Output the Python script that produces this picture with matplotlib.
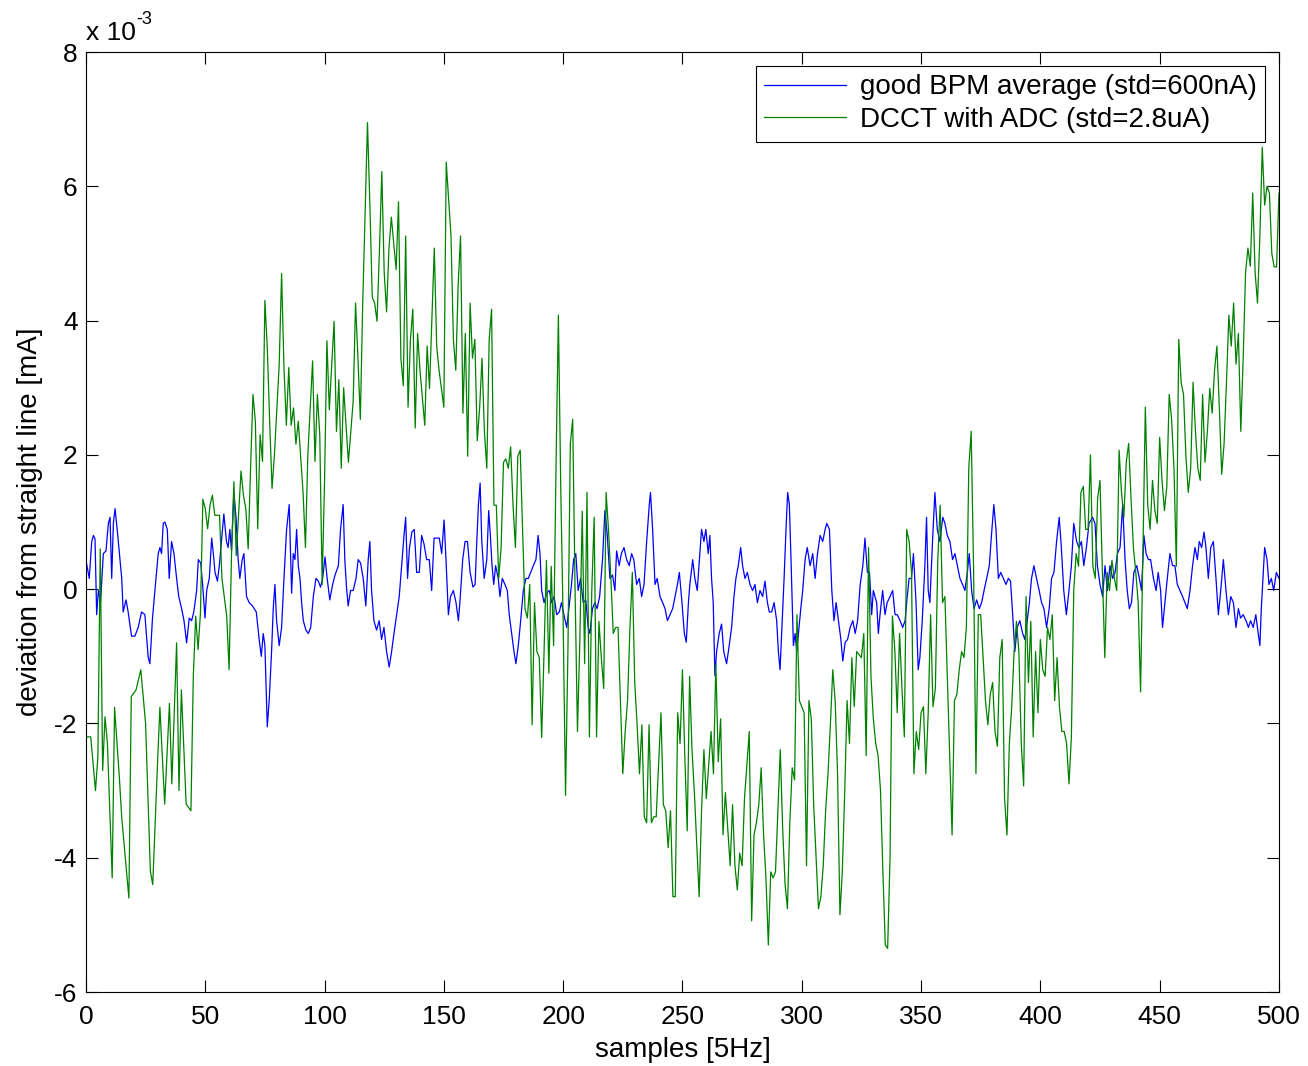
import matplotlib
matplotlib.use("Agg")
import matplotlib.pyplot as plt

# ---------- data (values in units of 1e-3 mA) ----------
bpm_x = [
    0, 1.4, 2.4, 3.1, 3.8, 4.5, 5.2, 6.1, 7.3, 8.4, 9.4, 10.1, 10.8, 11.5, 12.2, 13.1, 14.3, 15, 15.6, 16.8,
    17.7, 19.1, 20.5, 21.9, 23.3, 24.7, 26.1, 26.8, 27.9, 28.9, 30.3, 31, 31.7, 32.4, 33.1, 34.1, 34.9, 35.9, 36.9, 38,
    38.9, 40.1, 41.1, 42.2, 43.3, 44.3, 45.2, 46.4, 47.1, 48.1, 48.9, 49.9, 50.6, 51.7, 52.7, 53.4, 54.1, 55.1, 55.9, 56.9,
    57.8, 58.9, 59.6, 60.3, 61, 62, 62.9, 63.8, 64.5, 65.5, 66.2, 67.3, 68.4, 69.8, 71.4, 72.6, 73.5, 74.3, 75, 76,
    76.8, 77.8, 78.5, 79.2, 79.9, 81, 82, 83, 84.1, 85.2, 86.2, 86.9, 87.6, 88.3, 89, 89.7, 90.4, 91.1, 92.2, 93.2,
    94.2, 95.3, 96.4, 97.4, 98.3, 99.2, 100.2, 101.1, 102.2, 103.4, 104.4, 105.8, 106.7, 107.8, 108.5, 109.2, 109.9, 110.9, 112, 113.2,
    114.1, 115.1, 116.2, 117.3, 118.3, 119, 119.7, 120.7, 121.8, 122.9, 123.9, 124.9, 126, 127.1, 128.1, 129.1, 130.2, 131.3, 132.3, 133.3,
    134, 134.8, 135.6, 136.6, 137.6, 138.6, 139.7, 140.7, 141.7, 142.8, 143.9, 144.9, 145.9, 147, 148.1, 149.1, 150.1, 150.9, 151.9, 152.8,
    154, 155.1, 156.1, 156.8, 157.9, 158.9, 159.9, 161, 162.2, 163.1, 163.8, 164.5, 165.2, 165.9, 166.9, 168, 168.8, 169.5, 170.2, 170.9,
    171.7, 172.8, 173.5, 174.5, 175.6, 176.6, 177.4, 178.4, 179.4, 180.2, 181.2, 182.2, 183.3, 184.4, 185.4, 186.4, 187.5, 188.6, 189.5, 190.3,
    191, 192, 193.1, 194.2, 195.2, 196.2, 197.3, 198.4, 199.3, 200.3, 201.5, 202.4, 203.5, 204.4, 205.3, 206.3, 207.3, 208.4, 209.5, 210.5,
    211.2, 212.3, 213.3, 214.2, 215.3, 216.5, 217.5, 218.5, 219.6, 220.7, 221.7, 222.4, 223.5, 224.4, 225.5, 226.6, 227.7, 228.7, 229.6, 230.8,
    231.9, 232.9, 233.9, 235, 236.1, 236.6, 237.5, 238.5, 239.4, 240.6, 241.7, 242.7, 243.7, 244.8, 245.9, 246.9, 247.9, 248.7, 249.8, 250.8,
    251.6, 252.5, 253.1, 254.3, 255.2, 256.2, 257.3, 258, 259, 259.8, 260.8, 261.5, 262.2, 262.9, 263.6, 264.3, 265.4, 266.4, 267.3, 268.5,
    269.6, 270.6, 271.6, 272.4, 273.4, 274.4, 275.2, 276.2, 277.2, 278.3, 279.4, 280.4, 281.4, 282.5, 283.6, 284.6, 285.6, 286.4, 287.4, 288.4,
    289.5, 290.2, 290.9, 291.7, 292.6, 293.4, 294.1, 294.8, 295.5, 296.5, 297.2, 297.9, 298.6, 299.6, 300.4, 301.4, 302.3, 303.5, 304.6, 305.6,
    306.6, 307.7, 308.8, 309.8, 310.5, 311.6, 312.6, 313.5, 314.4, 315.4, 316.4, 317.2, 318.2, 319.2, 320.3, 321.4, 322.4, 323.4, 324.5, 325.6,
    326.5, 327.5, 328.4, 329.3, 330, 330.7, 331.4, 332.1, 332.8, 333.9, 334.9, 335.8, 337, 338.1, 339.1, 340, 341.2, 342.3, 343.3, 344.2,
    345, 346, 346.8, 347.9, 348.8, 349.5, 350.5, 351.6, 352.3, 353, 353.7, 354.8, 355.8, 356.8, 357.9, 359.1, 360, 361, 362.1, 363.2,
    364.2, 365.2, 366.3, 367.4, 368.4, 369.4, 370.2, 371.2, 372.2, 373.3, 374.4, 375.4, 376.4, 377.5, 378.6, 379.5, 380.5, 381.4, 382.4, 383.4,
    384.5, 385.6, 386.6, 387.5, 388.4, 389.3, 390.3, 391.4, 392.6, 393.5, 394.5, 395.4, 396.3, 397.3, 398.4, 399.5, 400.5, 401.5, 402.6, 403.7,
    404.7, 405.7, 406.8, 407.9, 408.8, 409.8, 410.9, 412, 413, 414, 415.2, 416.2, 417.2, 418.2, 419.3, 420.4, 421.9, 422.9, 423.9, 425,
    426.1, 427.1, 428.1, 429.2, 430.3, 431.3, 432.3, 433.4, 434.5, 435.5, 436.4, 437.3, 438.2, 439.2, 440.4, 441.5, 442.4, 443.4, 444.3, 445.3,
    446.2, 447.4, 448.5, 449.4, 450.4, 451.2, 452.2, 453.2, 454.3, 455.4, 456.4, 457.4, 458.5, 459.6, 460.6, 461.6, 462.7, 463.8, 464.8, 465.8,
    466.6, 467.6, 468.6, 469.4, 470.4, 471.4, 472.5, 473.6, 474.6, 475.6, 476.7, 477.8, 478.8, 479.8, 480.9, 482, 483, 483.9, 485, 486.2,
    487.2, 488.1, 489.2, 490.3, 491.3, 492, 492.6, 493.3, 494, 495, 495.8, 496.8, 497.8, 498.9, 500,
]
bpm_y = [
    0.43, 0.16, 0.7, 0.8, 0.75, -0.38, -0.02, -0.2, 0.53, 0.57, 0.98, 1.07, 0.16, 0.98, 1.2, 0.89, 0.44, 0.16, -0.34, -0.16,
    -0.34, -0.7, -0.7, -0.57, -0.34, -0.38, -1.02, -1.11, -0.43, -0.02, 0.53, 0.62, 0.53, 0.98, 1.0, 0.89, 0.16, 0.71, 0.53, 0.16,
    -0.11, -0.29, -0.47, -0.8, -0.43, -0.47, -0.34, -0.02, 0.44, 0.39, 0.07, -0.43, -0.02, 0.16, 0.76, 0.53, 0.25, 0.12, 0.35, 0.76,
    1.12, 0.71, 0.62, 0.89, 0.57, 1.44, 1.07, 0.44, 0.16, 0.44, 0.53, -0.11, -0.2, -0.25, -0.34, -0.75, -1.0, -0.66, -0.84, -2.05,
    -1.66, -0.93, -0.29, 0.07, -0.47, -0.84, -0.57, 0.16, 0.89, 1.26, -0.06, 0.53, 0.44, 0.89, 0.35, 0.16, -0.2, -0.47, -0.61, -0.66,
    -0.57, -0.11, 0.16, 0.12, 0.03, 0.16, 0.48, 0.16, -0.16, 0.07, 0.21, 0.35, 0.89, 1.26, 0.44, 0.03, -0.25, -0.02, -0.02, 0.16,
    0.44, 0.39, 0.16, -0.25, 0.44, 0.71, -0.02, -0.47, -0.61, -0.47, -0.75, -0.57, -0.93, -1.16, -0.93, -0.66, -0.38, -0.11, 0.35, 0.8,
    1.07, 0.16, 0.62, 0.85, 0.89, 0.25, 0.25, 0.8, 0.67, 0.44, 0.44, -0.02, 0.76, 0.76, 0.76, 0.53, 1.03, 0.44, -0.38, -0.11,
    -0.02, -0.2, -0.47, -0.16, 0.44, 0.71, 0.71, 0.25, 0.03, 0.07, 0.71, 1.26, 1.58, 0.71, 0.16, 0.44, 1.17, 0.8, 0.35, 0.07,
    0.35, 0.16, -0.11, 0.16, 0.07, -0.02, -0.38, -0.66, -0.93, -1.11, -0.84, -0.47, -0.02, 0.16, 0.16, 0.25, 0.35, 0.44, 0.8, 0.53,
    -0.02, -0.2, -0.06, -0.02, -0.2, -0.11, -0.38, -0.34, -0.2, -0.38, -0.57, -0.29, 0.07, 0.44, 0.53, -0.02, 0.16, -0.2, -0.16, -0.57,
    -0.66, -0.29, -0.2, -0.29, -0.11, 0.44, 1.17, 0.8, 0.16, 0.21, -0.02, 0.57, 0.35, 0.53, 0.62, 0.44, 0.35, 0.53, 0.44, 0.07,
    0.16, -0.11, 0.07, 0.71, 1.26, 1.44, 0.89, 0.07, 0.16, -0.11, -0.2, -0.29, -0.47, -0.38, -0.29, -0.11, 0.07, 0.25, -0.2, -0.66,
    -0.79, -0.2, 0.07, 0.44, 0.16, -0.02, 0.53, 0.89, 0.71, 0.89, 0.53, 0.8, 0.16, -0.2, -1.29, -0.93, -0.66, -0.52, -0.93, -1.11,
    -0.84, -0.57, -0.11, 0.16, 0.35, 0.62, 0.35, 0.16, 0.25, 0.07, -0.02, 0.07, -0.2, -0.02, -0.11, 0.12, -0.2, -0.34, -0.34, -0.2,
    -0.47, -0.93, -1.2, -0.57, 0.16, 0.89, 1.44, 1.26, 0.44, -0.84, -0.66, -0.93, -0.66, -0.29, -0.02, 0.44, 0.62, 0.35, 0.53, 0.16,
    0.53, 0.8, 0.71, 0.89, 0.98, 0.89, -0.02, -0.47, -0.2, -0.47, -0.75, -1.07, -0.79, -0.75, -0.57, -0.47, -0.66, -0.47, 0.07, 0.35,
    0.76, 0.25, 0.25, -0.38, -0.02, -0.11, -0.2, -0.66, -0.38, -0.02, -0.38, -0.2, -0.11, -0.02, -0.38, -0.38, -0.47, -0.57, -0.47, -0.11,
    0.16, 0.16, 0.53, -0.2, -1.2, -1.02, -0.47, 0.35, 1.07, -0.02, -0.2, 0.71, 1.44, 0.89, 0.71, 1.07, 0.98, 0.8, 0.71, 0.44,
    0.53, 0.35, 0.16, 0.07, -0.02, 0.25, 0.53, -0.02, -0.29, -0.16, -0.29, -0.2, -0.02, 0.16, 0.35, 0.8, 1.26, 0.89, 0.16, 0.25,
    0.16, 0.07, 0.16, 0.12, -0.38, -0.93, -0.57, -0.47, -0.66, -0.75, -0.47, -0.2, 0.16, 0.35, 0.16, -0.02, -0.2, -0.29, -0.57, -0.29,
    0.16, 0.25, 0.71, 1.07, 0.62, -0.02, -0.38, -0.02, 0.35, 0.98, 0.71, 0.62, 0.71, 0.35, 0.62, 0.98, 1.07, 0.98, 0.35, 0.07,
    -0.11, 0.35, -0.02, 0.35, 0.16, 0.25, 0.53, 0.62, 1.26, 0.44, -0.02, -0.29, -0.2, 0.25, 0.35, 0.16, -0.02, 0.8, 0.53, 0.44,
    0.44, 0.16, -0.02, 0.25, -0.02, -0.57, -0.2, 0.16, 0.53, 0.35, 0.35, 0.07, -0.02, -0.11, -0.2, -0.29, -0.02, 0.35, 0.62, 0.44,
    0.71, 0.62, 0.85, 0.62, 0.16, 0.62, 0.71, 0.16, -0.38, -0.02, 0.44, -0.02, -0.38, -0.11, -0.2, -0.57, -0.29, -0.43, -0.38, -0.47,
    -0.57, -0.47, -0.57, -0.38, -0.66, -0.84, -0.29, 0.16, 0.62, 0.44, 0.07, 0.16, -0.02, 0.25, 0.16,
]

dcct_x = [
    0, 2, 4, 5, 6, 7, 8, 9, 11, 12, 14, 15, 18, 19, 21, 23, 25, 27, 28, 30,
    31, 33, 35, 36, 38, 39, 40, 42, 44, 45, 46, 47, 48, 49, 50, 51, 52, 53, 54, 56,
    57, 59, 60, 61, 62, 63, 65, 66, 67, 68, 69, 70, 71, 72, 73, 74, 75, 76, 77, 78,
    79, 81, 82, 83, 84, 85, 86, 87, 88, 89, 91, 92, 93, 95, 96, 97, 98, 99, 100, 101,
    102, 104, 105, 106, 107, 108, 110, 112, 113, 114, 115, 116, 118, 119, 120, 121, 122, 123, 124, 125,
    126, 127, 128, 130, 131, 132, 133, 134, 135, 136, 137, 138, 139, 140, 142, 143, 144, 146, 147, 148,
    150, 151, 153, 154, 155, 156, 157, 158, 159, 160, 161, 162, 163, 164, 165, 166, 167, 168, 169, 170,
    171, 172, 173, 174, 175, 176, 177, 178, 179, 180, 181, 182, 183, 184, 185, 186, 187, 188, 189, 190,
    191, 192, 193, 194, 195, 196, 197, 198, 199, 200, 201, 202, 203, 204, 205, 206, 207, 208, 209, 210,
    211, 212, 213, 214, 215, 216, 217, 218, 219, 220, 221, 222, 223, 224, 225, 226, 227, 228, 229, 230,
    231, 232, 233, 234, 235, 236, 237, 238, 239, 241, 242, 243, 244, 245, 246, 247, 248, 249, 250, 251,
    252, 253, 254, 255, 257, 258, 259, 260, 262, 263, 264, 265, 266, 267, 268, 270, 271, 272, 273, 274,
    275, 276, 278, 279, 280, 281, 282, 283, 284, 285, 286, 287, 288, 289, 291, 292, 293, 294, 295, 296,
    297, 298, 299, 300, 301, 302, 303, 304, 305, 307, 308, 309, 310, 311, 312, 313, 314, 315, 316, 317,
    318, 319, 320, 321, 322, 323, 325, 326, 327, 328, 329, 330, 331, 332, 333, 334, 335, 336, 337, 338,
    339, 340, 341, 342, 343, 344, 345, 346, 347, 348, 349, 350, 351, 352, 353, 354, 355, 356, 357, 358,
    359, 360, 361, 362, 363, 364, 365, 366, 367, 368, 369, 370, 371, 372, 373, 374, 375, 376, 377, 378,
    379, 380, 381, 382, 383, 384, 385, 386, 387, 388, 389, 390, 391, 392, 393, 394, 395, 396, 397, 398,
    399, 400, 401, 402, 403, 404, 405, 406, 407, 408, 409, 410, 411, 412, 413, 414, 415, 416, 417, 418,
    419, 420, 421, 422, 423, 424, 425, 426, 427, 428, 429, 430, 431, 432, 433, 434, 435, 436, 437, 438,
    439, 440, 441, 442, 443, 444, 445, 446, 447, 448, 449, 450, 451, 452, 453, 454, 455, 456, 457, 458,
    459, 460, 461, 462, 463, 464, 465, 466, 467, 468, 469, 470, 471, 472, 473, 474, 475, 476, 477, 478,
    479, 480, 481, 482, 483, 484, 485, 486, 487, 488, 489, 490, 491, 492, 493, 494, 495, 496, 497, 498,
    499, 500,
]
dcct_y = [
    -2.2, -2.2, -3.0, -2.5, 0.6, -2.7, -1.9, -2.3, -4.3, -1.76, -2.8, -3.4, -4.6, -1.6, -1.5, -1.2, -2.0, -4.2, -4.4, -2.6,
    -1.76, -3.2, -1.7, -2.9, -0.8, -3.0, -1.5, -3.2, -3.3, -1.3, -0.4, -0.9, -0.35, 1.34, 1.2, 0.9, 1.25, 1.4, 1.1, 1.1,
    0.16, -0.4, -1.2, 0.5, 1.6, 0.5, 1.76, 1.4, 1.2, 0.6, 1.8, 2.9, 2.5, 0.9, 2.3, 1.9, 4.3, 3.6, 2.5, 1.5,
    2.0, 3.35, 4.7, 3.3, 2.44, 3.3, 2.44, 2.7, 2.16, 2.5, 1.44, 0.62, 2.0, 3.4, 1.9, 2.9, 2.3, 0.07, 1.6, 3.7,
    2.67, 3.99, 2.35, 3.12, 1.8, 3.0, 1.89, 2.8, 4.26, 3.44, 2.53, 4.26, 6.95, 5.72, 4.35, 4.26, 3.99, 5.04, 6.22, 4.72,
    4.13, 5.08, 5.54, 4.76, 5.77, 3.44, 3.03, 5.26, 2.71, 3.72, 4.17, 2.4, 3.81, 3.26, 2.44, 3.62, 2.99, 5.08, 3.62, 3.26,
    2.71, 6.36, 5.26, 3.72, 3.26, 4.53, 5.26, 2.62, 3.81, 1.98, 4.26, 3.44, 3.72, 2.21, 2.7, 3.44, 2.35, 1.8, 3.72, 4.17,
    1.25, 1.25, 0.16, 0.62, 1.89, 1.94, 1.8, 2.12, 1.25, 0.62, 1.98, 2.07, 0.89, -0.29, -0.43, 0.07, -2.02, -0.2, -0.93, -1.02,
    -2.21, -0.93, 0.43, -1.25, 0.34, -0.84, 1.8, 4.08, 1.5, -0.47, -3.07, -0.93, 2.16, 2.53, -0.02, -2.12, -0.75, 1.16, -1.11, 1.44,
    -2.2, -0.02, 1.07, -2.2, -0.48, -1.02, -1.48, 1.44, 0.89, 0.16, -0.66, -0.57, -0.57, -1.66, -2.75, -2.12, -1.66, -0.57, 0.25, -1.39,
    -2.02, -2.75, -2.02, -3.39, -3.48, -2.02, -3.48, -3.39, -3.39, -1.84, -3.21, -3.3, -3.85, -3.3, -4.58, -4.58, -1.84, -2.3, -1.2, -2.5,
    -3.6, -1.3, -2.39, -3.03, -4.58, -3.3, -2.39, -3.12, -2.12, -2.75, -1.11, -2.57, -1.93, -3.66, -3.03, -4.12, -3.21, -4.12, -4.48, -3.93,
    -4.12, -3.12, -2.12, -4.94, -3.66, -3.48, -3.21, -2.66, -3.66, -4.3, -5.3, -4.21, -4.3, -4.21, -2.39, -3.57, -4.39, -4.76, -3.48, -2.66,
    -2.84, -0.38, -1.66, -1.75, -1.84, -4.12, -1.66, -1.93, -3.21, -4.76, -4.58, -4.12, -3.3, -2.75, -2.02, -1.2, -1.66, -2.75, -4.85, -4.21,
    -3.03, -1.66, -2.3, -1.02, -1.75, -0.93, -1.02, -0.66, -2.48, 0.62, -1.3, -1.93, -2.3, -2.48, -3.0, -4.2, -5.3, -5.35, -4.0, -0.4,
    -0.9, -1.84, -0.66, -1.48, -2.2, 0.89, 0.71, 0.25, -2.75, -2.12, -2.39, -1.84, -1.75, -2.75, -1.84, -0.38, -1.75, -1.48, 0.43, 1.25,
    -0.2, -0.11, -1.3, -2.48, -3.66, -1.66, -1.57, -1.2, -0.93, -1.02, -0.57, 1.8, 2.35, 0.34, -2.75, -0.38, -0.38, -1.02, -1.66, -2.02,
    -1.57, -1.39, -2.12, -2.34, -1.02, -0.75, -3.12, -3.66, -2.3, -1.75, -0.93, -0.48, -0.93, -2.3, -2.93, -0.11, -1.39, -0.48, -2.2, -0.93,
    -1.84, -0.75, -1.2, -1.3, -0.57, -0.75, -0.38, -1.66, -1.02, -1.75, -2.12, -2.12, -2.3, -2.9, -2.2, -0.02, 0.53, 0.34, 1.44, 1.53,
    0.89, 0.89, 2.0, 0.34, 0.16, 1.35, 1.62, 0.25, -1.02, 0.25, -0.02, 0.43, 0.16, -0.02, 2.07, 1.44, 1.07, 1.89, 2.17, 1.35,
    0.62, 0.25, -0.2, -1.53, 0.62, 2.71, 1.25, 0.89, 1.62, 1.17, 0.98, 2.26, 1.62, 1.17, 1.53, 2.9, 2.53, 1.8, 0.34, 3.72,
    3.08, 2.9, 1.98, 1.44, 1.8, 3.08, 2.35, 1.8, 1.62, 2.9, 1.89, 2.35, 2.99, 2.62, 3.26, 3.62, 2.71, 1.71, 2.17, 3.08,
    4.08, 3.62, 4.26, 3.35, 3.81, 2.35, 3.44, 4.72, 5.08, 4.81, 5.9, 4.72, 4.26, 5.26, 6.58, 5.72, 6.0, 5.9, 5.0, 4.8,
    4.8, 5.9,
]

labels = ["good BPM average (std=600nA)", "DCCT with ADC (std=2.8uA)"]
x_ticks = [0, 50, 100, 150, 200, 250, 300, 350, 400, 450, 500]
y_ticks = [-6, -4, -2, 0, 2, 4, 6, 8]

# ---------- plot ----------
plt.rcParams["font.family"] = ["Liberation Sans", "DejaVu Sans"]
plt.rcParams["axes.unicode_minus"] = False

fig = plt.figure(figsize=(13.08, 10.66), dpi=100)
ax = fig.add_axes([0.0657, 0.0694, 0.9121, 0.8818])

ax.plot(bpm_x, bpm_y, color=(0, 0, 1), lw=0.9, label=labels[0])
ax.plot(dcct_x, dcct_y, color=(0, 0.5, 0), lw=0.9, label=labels[1])

ax.set_xlim(0, 500)
ax.set_ylim(-6, 8)
ax.set_xticks(x_ticks)
ax.set_yticks(y_ticks)
ax.tick_params(direction="in", length=8.5, width=0.8, labelsize=19,
               top=True, right=True, colors="black")
ax.tick_params(axis="x", pad=9)
ax.tick_params(axis="y", pad=6)
for sp in ax.spines.values():
    sp.set_linewidth(0.8)

ax.set_xlabel("samples [5Hz]", fontsize=20, labelpad=6)
ax.set_ylabel("deviation from straight line [mA]", fontsize=20, labelpad=8)

# exponent label, matlab style ("x 10" with a raised "-3")
ax.text(0.0, 1.008, "x 10", transform=ax.transAxes,
        fontsize=19, ha="left", va="bottom")
ax.text(0.0425, 1.026, "-3", transform=ax.transAxes,
        fontsize=13, ha="left", va="bottom")

leg = ax.legend(loc="upper right", fontsize=20, handlelength=2.95,
                borderaxespad=0.5, fancybox=False, framealpha=1,
                edgecolor="black", borderpad=0.3, labelspacing=0.25,
                handletextpad=0.5)
leg.get_frame().set_linewidth(0.8)

fig.savefig("out.png", dpi=100)
